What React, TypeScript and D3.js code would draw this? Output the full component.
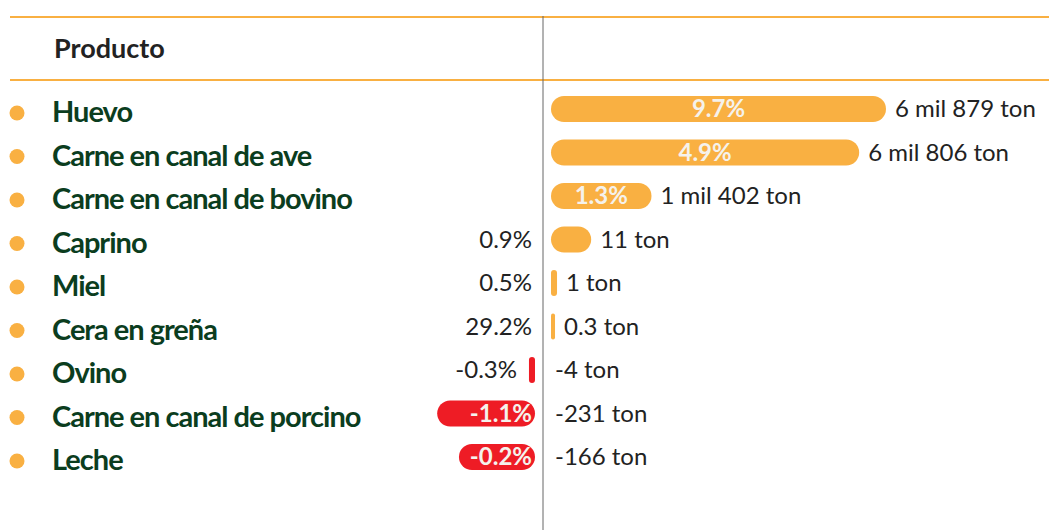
import React from "react";
import * as d3 from "d3";

const products = [
  "Huevo",
  "Carne en canal de ave",
  "Carne en canal de bovino",
  "Caprino",
  "Miel",
  "Cera en greña",
  "Ovino",
  "Carne en canal de porcino",
  "Leche",
];
const pctLabels = ["9.7%", "4.9%", "1.3%", "0.9%", "0.5%", "29.2%", "-0.3%", "-1.1%", "-0.2%"];
const tonLabels = [
  "6 mil 879 ton",
  "6 mil 806 ton",
  "1 mil 402 ton",
  "11 ton",
  "1 ton",
  "0.3 ton",
  "-4 ton",
  "-231 ton",
  "-166 ton",
];
// relative bar magnitude (index units)
const barValues = [10, 9.2, 3.0, 1.2, 0.18, 0.12, -0.18, -2.92, -2.27];

const W = 1049;
const H = 530;
const AXIS_X = 543;
const ORANGE = "#F9B042";
const RED = "#EE1C25";
const GREEN = "#0B3D1E";

export default function App() {
  const y = d3.scalePoint<string>().domain(products).range([109, 457]);
  const len = d3.scaleLinear().domain([0, 10]).range([0, 335]);
  const posStart = 551;
  const negEnd = 535;
  const barH = 26;

  return (
    <svg
      width={W}
      height={H}
      style={{ position: "absolute", left: 0, top: 0, background: "#fff" }}
    >
      <line x1={10} x2={W} y1={17} y2={17} stroke={ORANGE} strokeWidth={2} />
      <line x1={10} x2={W} y1={80} y2={80} stroke={ORANGE} strokeWidth={2} />
      <line x1={AXIS_X} x2={AXIS_X} y1={16} y2={H} stroke="#666" strokeWidth={1} />
      <text
        x={54}
        y={58}
        fontFamily="Lato, sans-serif"
        fontWeight={700}
        fontSize={27}
        fill="#222"
      >
        Producto
      </text>
      {products.map((p, i) => {
        const cy = y(p)!;
        const v = barValues[i];
        const w = Math.max(len(Math.abs(v)), 4);
        const isPos = v >= 0;
        const x0 = isPos ? posStart : negEnd - w;
        const x1 = isPos ? posStart + w : negEnd;
        const inside = w >= 60;
        const r = Math.min(barH / 2, w / 2);
        let pctEl: React.ReactNode;
        if (inside) {
          pctEl = (
            <text
              x={isPos ? (x0 + x1) / 2 : x1 - 3}
              y={cy}
              dy="0.35em"
              textAnchor={isPos ? "middle" : "end"}
              fontFamily="Lato, sans-serif"
              fontWeight={700}
              fontSize={24}
              fill="#F5F2EC"
            >
              {pctLabels[i]}
            </text>
          );
        } else {
          pctEl = (
            <text
              x={isPos ? 532 : x0 - 12}
              y={cy}
              dy="0.35em"
              textAnchor="end"
              fontFamily="Lato, sans-serif"
              fontSize={24}
              fill="#222"
            >
              {pctLabels[i]}
            </text>
          );
        }
        return (
          <g key={p}>
            <circle cx={17} cy={cy + 4} r={7.5} fill={ORANGE} />
            <text
              x={52}
              y={cy + 3}
              dy="0.35em"
              fontFamily="Lato, sans-serif"
              fontWeight={700}
              fontSize={29}
              letterSpacing={-1}
              fill={GREEN}
            >
              {p}
            </text>
            <rect
              x={x0}
              y={cy - barH / 2}
              width={w}
              height={barH}
              rx={r}
              ry={r}
              fill={isPos ? ORANGE : RED}
            />
            {pctEl}
            <text
              x={isPos ? x1 + 9 : 555}
              y={cy}
              dy="0.35em"
              fontFamily="Lato, sans-serif"
              fontSize={24}
              fill="#222"
            >
              {tonLabels[i]}
            </text>
          </g>
        );
      })}
    </svg>
  );
}
